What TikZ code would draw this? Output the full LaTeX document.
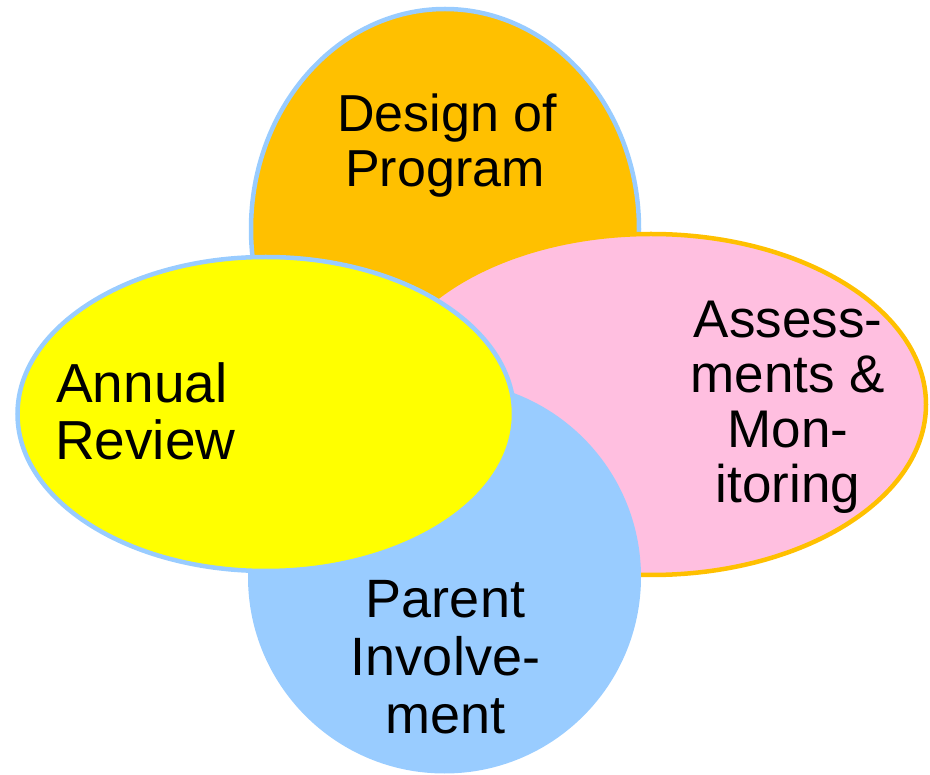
\documentclass[tikz,border=0pt]{standalone}
\usepackage{fontspec}
\setmainfont{Liberation Sans}
\usetikzlibrary{shapes.geometric}
\definecolor{cOrange}{HTML}{FFC000}
\definecolor{cPink}{HTML}{FFBFE0}
\definecolor{cBlue}{HTML}{99CCFF}
\definecolor{cYellow}{HTML}{FFFF00}
\tikzset{
  blob/.style={ellipse, inner sep=0pt, line width=4.5pt},
  lbl/.style={font=\fontsize{53}{55}\selectfont, anchor=base, inner sep=0pt, text=black},
  lblL/.style={lbl, font=\fontsize{55}{57}\selectfont, anchor=base west},
}
\begin{document}
\begin{tikzpicture}[x=1pt, y=-1pt]
\useasboundingbox (0,0) rectangle (930,775);
% shapes
\node[blob, fill=cOrange, draw=cBlue, minimum width=388pt, minimum height=440pt] (design) at (445,229) {};
\node[blob, fill=cPink, draw=cOrange, minimum width=550pt, minimum height=341pt] (assess) at (651,404.5) {};
\node[circle, inner sep=0pt, fill=cBlue, minimum size=393pt] (parent) at (444.5,577) {};
\node[blob, fill=cYellow, draw=cBlue, minimum width=496.5pt, minimum height=314pt] (annual) at (265.75,414) {};
% labels
\node[lbl, font=\fontsize{52}{55}\selectfont] (t1a) at (447,131.5) {Design of};
\node[lbl, font=\fontsize{52}{55}\selectfont] (t1b) at (445,187) {Program};
\node[lbl] (t2a) at (788,338) {Assess-};
\node[lbl] (t2b) at (788,393) {ments \&};
\node[lbl] (t2c) at (788,448) {Mon-};
\node[lbl] (t2d) at (788,503) {itoring};
\node[lbl, font=\fontsize{54}{58}\selectfont] (t3a) at (445.5,617) {Parent};
\node[lbl, font=\fontsize{54}{58}\selectfont] (t3b) at (445.5,675) {Involve-};
\node[lbl, font=\fontsize{54}{58}\selectfont] (t3c) at (445.5,733) {ment};
\node[lblL] (t4a) at (56,403) {Annual};
\node[lblL] (t4b) at (55,460) {Review};
\end{tikzpicture}
\end{document}
